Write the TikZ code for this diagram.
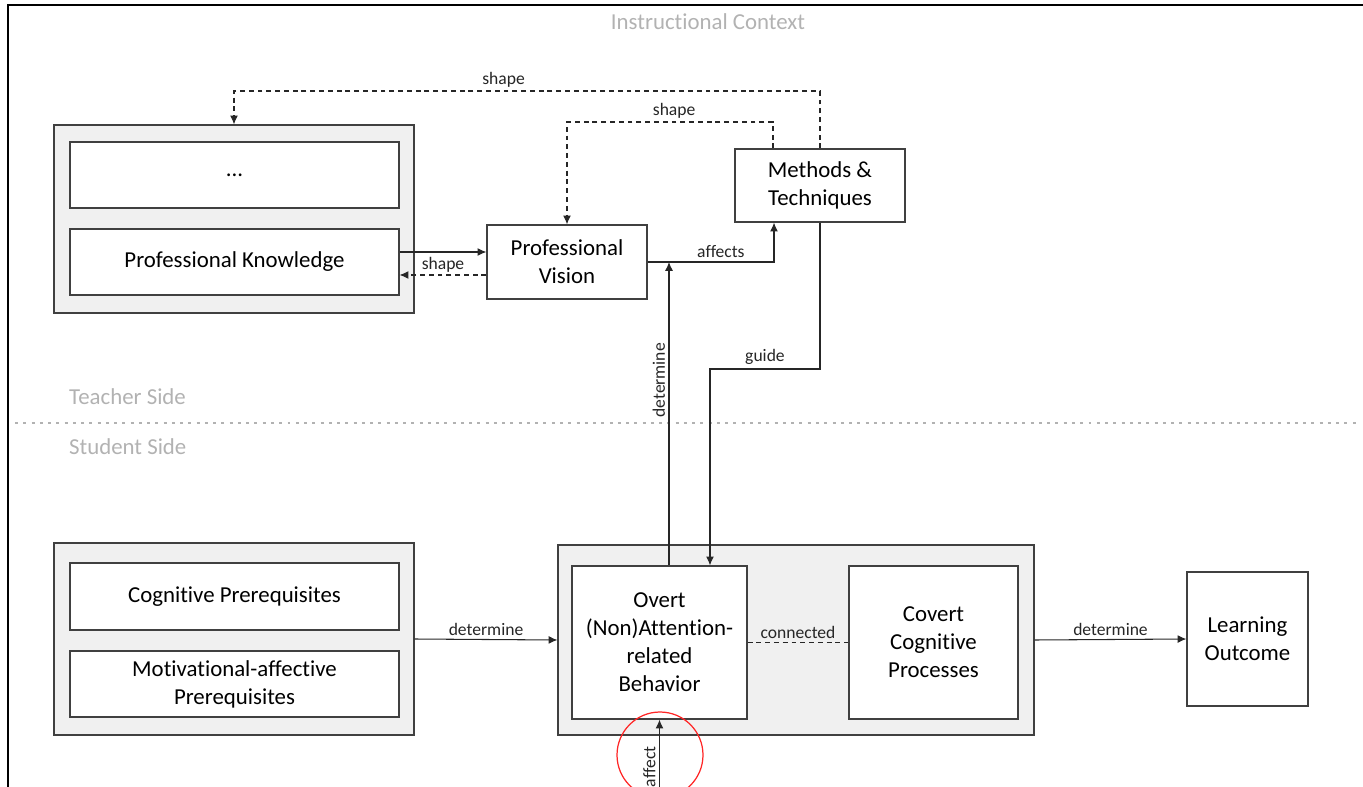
\documentclass[tikz,border=0pt]{standalone}
\usepackage{fontspec}
\setmainfont{Carlito}[Ligatures=NoCommon]
\usetikzlibrary{positioning}
\usetikzlibrary{arrows.meta}

\begin{document}
\begin{tikzpicture}[x=0.02cm,y=-0.02cm,
	box/.style={draw=black!75,line width=0.7pt,fill=white,align=center,inner sep=2pt,
		font=\fontsize{13}{16}\selectfont},
	outerbox/.style={draw=black!75,line width=0.7pt,fill=black!6},
	conn/.style={black!85,line width=0.6pt},
	arr/.style={conn,-{Latex[length=5pt,width=4.5pt]}},
	dsh/.style={dash pattern=on 2.8pt off 2.2pt},
	lbl/.style={font=\fontsize{10}{12}\selectfont,text=black!85,inner sep=2pt},
	side/.style={font=\fontsize{13}{15}\selectfont,text=black!30}]
	\useasboundingbox (0,0) rectangle (1363,787);
	% frame and sides
	\draw[black,line width=0.9pt] (1363,5) -- (8,5) -- (8,787);
	\node[side] (ctx) at (708,22) {Instructional Context};
	\draw[black!30,line width=1.7pt,dash pattern=on 1.7pt off 3pt] (15,423) -- (1360,423);
	\node[side,anchor=west] (tside) at (63,397) {Teacher Side};
	\node[side,anchor=west] (sside) at (63,447) {Student Side};
	% teacher side
	\node[outerbox,minimum width=7.2cm,minimum height=3.76cm] (tout) at (234,219) {};
	\node[box,minimum width=6.58cm,minimum height=1.32cm] (etc) at (234.5,175) {...};
	\node[box,minimum width=6.58cm,minimum height=1.32cm] (pk) at (234.5,262) {Professional Knowledge};
	\node[box,minimum width=3.2cm,minimum height=1.48cm] (pv) at (567,262) {Professional\\Vision};
	\node[box,minimum width=3.4cm,minimum height=1.46cm] (mt) at (820,185.5) {Methods \&\\Techniques};
	% student side
	\node[outerbox,minimum width=7.2cm,minimum height=3.84cm] (sout) at (234,639) {};
	\node[box,minimum width=6.58cm,minimum height=1.34cm] (cog) at (234.5,596.5) {Cognitive Prerequisites};
	\node[box,minimum width=6.58cm,minimum height=1.32cm] (mot) at (234.5,684) {Motivational-affective\\Prerequisites};
	\node[outerbox,minimum width=9.52cm,minimum height=3.8cm] (mid) at (796,640) {};
	\node[box,minimum width=3.5cm,minimum height=3.06cm] (ov) at (659.5,642.5) {Overt\\(Non)Attention-\\related\\Behavior};
	\node[box,minimum width=3.38cm,minimum height=3.06cm] (cv) at (933.5,642.5) {Covert\\Cognitive\\Processes};
	\node[box,minimum width=2.42cm,minimum height=2.68cm] (lo) at (1247.5,639) {Learning\\Outcome};
	% helper points
	\coordinate (s1) at (567,122);
	\coordinate (s2) at (234,91);
	\coordinate (g1) at (820,369);
	\coordinate (dt) at ([xshift=0.19cm]ov.north);
	\coordinate (af) at (ov.south |- 0,787);
	% connectors
	\draw[arr] ([yshift=0.2cm]pk.east) -- node[lbl,below=1pt]{shape} ([yshift=0.2cm]pv.west);
	\draw[arr,dsh] ([yshift=-0.26cm]pv.west) -- ([yshift=-0.26cm]pk.east);
	\draw[arr] (pv.east) -| node[lbl,pos=0.29,above]{affects} ([xshift=-0.92cm]mt.south);
	\draw[arr,dsh] ([xshift=-0.94cm]mt.north) |- node[lbl,pos=0.74,above]{shape} (s1) -- (pv.north);
	\draw[arr,dsh] (mt.north) |- node[lbl,pos=0.77,above]{shape} (s2) -- (tout.north);
	\draw[arr] (mt.south) -- (g1) -| node[lbl,pos=0.25,above]{guide} ([xshift=1.01cm]ov.north);
	\draw[arr] (dt) -- node[lbl,pos=0.61,above,sloped]{determine} (dt |- pv.east);
	\draw[arr] (sout.east) -- node[lbl,above]{determine} (mid.west);
	\draw[conn,dsh] (ov.east) -- node[lbl,above]{connected} (cv.west);
	\draw[arr] (mid.east) -- node[lbl,above]{determine} (lo.west);
	\draw[arr] (af) -- node[lbl,pos=0.3,above,sloped]{affect} (ov.south);
	\draw[red!85,line width=0.7pt] (660,755) circle (0.86cm);
\end{tikzpicture}
\end{document}
